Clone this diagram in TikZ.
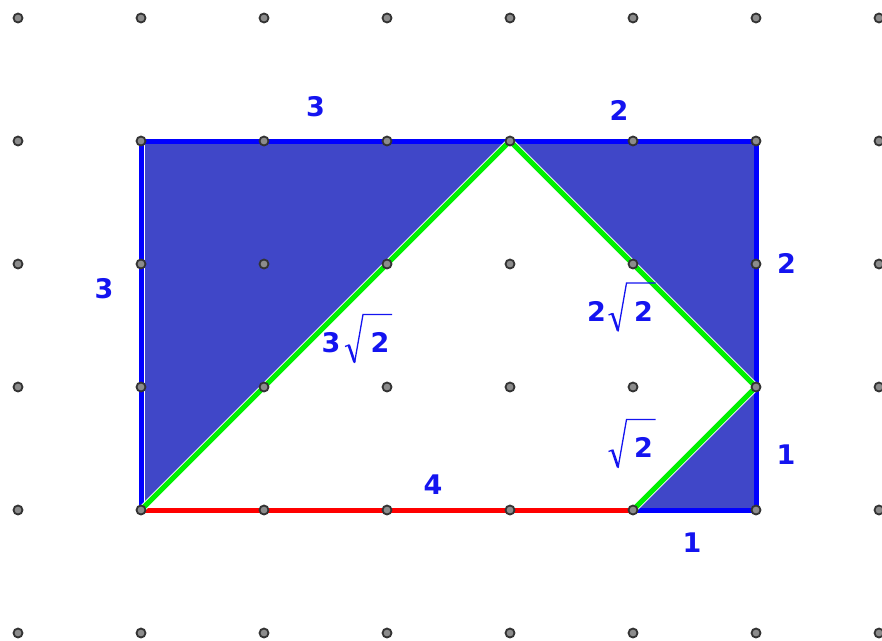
\documentclass[tikz,border=0pt]{standalone}
\usepackage{fontspec}
\setmainfont{DejaVu Sans}
\usetikzlibrary{calc}
\definecolor{fillblue}{RGB}{64,71,200}
\definecolor{edgeblue}{RGB}{0,0,255}
\definecolor{lblblue}{RGB}{20,20,240}
\definecolor{grn}{RGB}{0,240,0}
\definecolor{rd}{RGB}{255,0,0}
\newcommand{\rootmark}[1]{%
  \draw[lblblue,line width=1.3pt,line join=round] ($(#1)+(-35,4)$) -- ($(#1)+(-31,2.5)$);
  \draw[lblblue,line width=2.6pt] ($(#1)+(-31.3,2.3)$) -- ($(#1)+(-25.5,19.5)$);
  \draw[lblblue,line width=1.3pt,line join=miter] ($(#1)+(-25.5,20.5)$) -- ($(#1)+(-17,-28)$) -- ($(#1)+(12,-28)$);}
\begin{document}
\begin{tikzpicture}[x=1pt,y=-1pt,
  dot/.style={circle,inner sep=0pt,minimum size=9pt,fill=black!45,draw=black!80,line width=1.8pt},
  lbl/.style={text=lblblue,font=\fontsize{27}{32}\selectfont\bfseries,inner sep=0pt},
  blueedge/.style={edgeblue,line width=5pt,line cap=round},
  greenedge/.style={grn,line width=5pt,line join=round},
  whiteunder/.style={white,line width=7pt,line join=round}]
\useasboundingbox (0,0) rectangle (882,640);
\foreach \i in {0,...,7}
  \foreach \j in {0,...,5}
    \coordinate (g\i\j) at ({18+123*\i},{18+123*\j});
% shaded triangles
\fill[fillblue] (g11) -- (g41) -- (g14) -- cycle;
\fill[fillblue] (g41) -- (g61) -- (g63) -- cycle;
\fill[fillblue] (g63) -- (g64) -- (g54) -- cycle;
% thin white inner line at left edge
\draw[white,line width=1pt] ([xshift=3.5pt]g11) -- ([xshift=3.5pt]g14);
% blue edges
\draw[blueedge] (g11) -- (g61) -- (g64) -- (g54);
\draw[blueedge] (g11) -- (g14);
% red edge
\draw[rd,line width=5pt] (g14) -- (g54);
% green edges
\draw[whiteunder] (g14) -- (g41) -- (g63) -- (g54);
\draw[greenedge] (g14) -- (g41) -- (g63) -- (g54);
% grid dots
\foreach \i in {0,...,7}
  \foreach \j in {0,...,5}
    \node[dot] (d\i\j) at (g\i\j) {};
% labels
\node[lbl] (l1) at (315.5,106.5) {3};
\node[lbl] (l2) at (619,110) {2};
\node[lbl] (l3) at (104,289) {3};
\node[lbl] (l4) at (786.5,263) {2};
\node[lbl] (l5a) at (331,342.5) {3};
\node[lbl] (l5b) at (380,342.5) {2};
\rootmark{l5b}
\node[lbl] (l6a) at (596.5,311) {2};
\node[lbl] (l6b) at (643.5,311) {2};
\rootmark{l6b}
\node[lbl] (l7) at (643.5,447.5) {2};
\rootmark{l7}
\node[lbl] (l8) at (433,485) {4};
\node[lbl] (l9) at (786,455) {1};
\node[lbl] (l10) at (692,542.5) {1};
\end{tikzpicture}
\end{document}
